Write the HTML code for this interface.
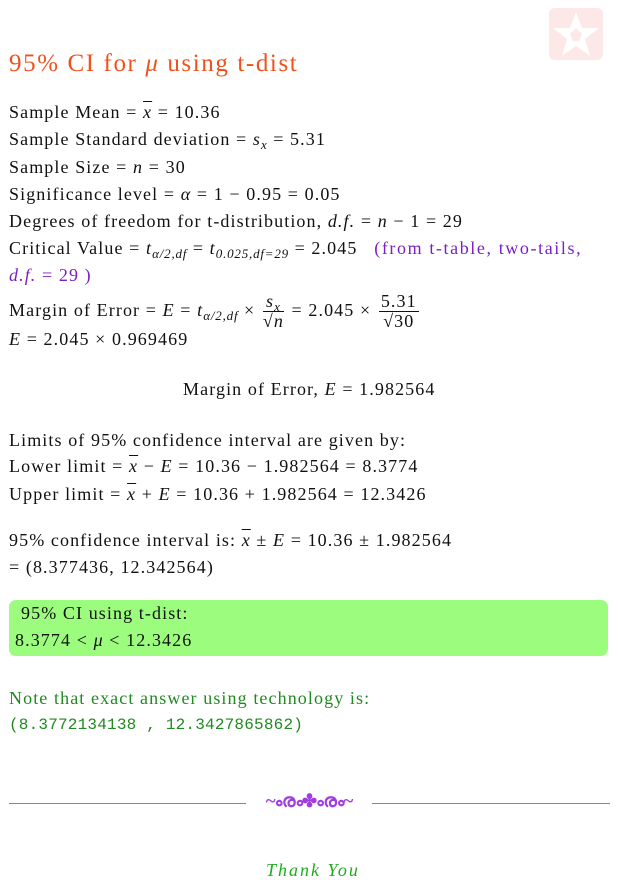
<!DOCTYPE html>
<html><head><meta charset="utf-8"><style>
body{margin:0;width:618px;height:885px;background:#fff;position:relative;overflow:hidden;font-family:"Liberation Serif",serif;font-size:18px;letter-spacing:1.1px;color:#111}
.l{position:absolute;left:9px;white-space:nowrap;line-height:20px}
i{font-style:italic}
.ov{text-decoration:overline}
sub{font-size:13px;font-style:italic;vertical-align:-4px;line-height:0;letter-spacing:0.8px}
.pur{color:#7a1fc4}
.frac{display:inline-block;vertical-align:middle;text-align:center;margin:0 2px}
.frac span{display:block;line-height:19px}
.frac .n{border-bottom:1px solid #111;padding:0 2px}
</style></head><body>
<div style="position:absolute;left:549px;top:8px;width:54px;height:52px;background:#fde8e8;border-radius:6px">
<svg width="54" height="52" viewBox="0 0 54 52"><polygon points="27,4 33,20 50,20 36,31 41,48 27,38 13,48 18,31 4,20 21,20" fill="#fff"/><polygon points="27,20 33,26 30,33 24,33 21,26" fill="#fde8e8"/></svg></div>
<div class="l" style="top:50px;font-size:25px;line-height:28px;letter-spacing:1.6px;color:#f0521e">95% CI for <i>μ</i> using t-dist</div>
<div class="l" style="top:102px">Sample Mean = <i class="ov">x</i> = 10.36</div>
<div class="l" style="top:129px">Sample Standard deviation = <i>s<sub>x</sub></i> = 5.31</div>
<div class="l" style="top:157px">Sample Size = <i>n</i> = 30</div>
<div class="l" style="top:184px">Significance level = <i>α</i> = 1 − 0.95 = 0.05</div>
<div class="l" style="top:211px">Degrees of freedom for t-distribution, <i>d.f.</i> = <i>n</i> − 1 = 29</div>
<div class="l" style="top:238px">Critical Value = <i>t</i><sub>α/2,df</sub> = <i>t</i><sub>0.025,df=29</sub> = 2.045 &nbsp;&nbsp;<span class="pur" style="letter-spacing:1.6px">(from t-table, two-tails,</span></div>
<div class="l pur" style="top:265px"><i>d.f.</i> = 29 )</div>
<div class="l" style="top:290px;line-height:40px">Margin of Error = <i>E</i> = <i>t</i><sub>α/2,df</sub> × <span class="frac"><span class="n"><i>s<sub>x</sub></i></span><span>√<i>n</i></span></span> = 2.045 × <span class="frac"><span class="n">5.31</span><span>√30</span></span></div>
<div class="l" style="top:329px"><i>E</i> = 2.045 × 0.969469</div>
<div class="l" style="top:379px;left:183px">Margin of Error, <i>E</i> = 1.982564</div>
<div class="l" style="top:430px">Limits of 95% confidence interval are given by:</div>
<div class="l" style="top:456px">Lower limit = <i class="ov">x</i> − <i>E</i> = 10.36 − 1.982564 = 8.3774</div>
<div class="l" style="top:484px">Upper limit = <i class="ov">x</i> + <i>E</i> = 10.36 + 1.982564 = 12.3426</div>
<div class="l" style="top:530px">95% confidence interval is: <i class="ov">x</i> ± <i>E</i> = 10.36 ± 1.982564</div>
<div class="l" style="top:557px">= (8.377436, 12.342564)</div>
<div style="position:absolute;left:9px;top:600px;width:599px;height:56px;background:#9cfc7e;border-radius:7px"></div>
<div class="l" style="top:603px;left:21px">95% CI using t-dist:</div>
<div class="l" style="top:630px;left:15px">8.3774 &lt; <i>μ</i> &lt; 12.3426</div>
<div class="l" style="top:688px;color:#1f8a1f">Note that exact answer using technology is:</div>
<div class="l" style="top:715px;color:#1f8a1f;font-family:'Liberation Mono',monospace;font-size:16px;letter-spacing:0.2px">(8.3772134138 , 12.3427865862)</div>
<div style="position:absolute;left:9px;top:803px;width:237px;height:1px;background:#b060d8"></div>
<div style="position:absolute;left:372px;top:803px;width:238px;height:1px;background:#b060d8"></div>
<div style="position:absolute;left:262px;top:790px;width:94px;text-align:center;color:#a03ce0;font-size:19px;font-weight:bold;line-height:24px;letter-spacing:-1px">~ൟ✤ൟ~</div>
<div class="l" style="top:860px;left:266px;color:#1faa1f;font-style:italic;letter-spacing:2px">Thank You</div>
</body></html>
